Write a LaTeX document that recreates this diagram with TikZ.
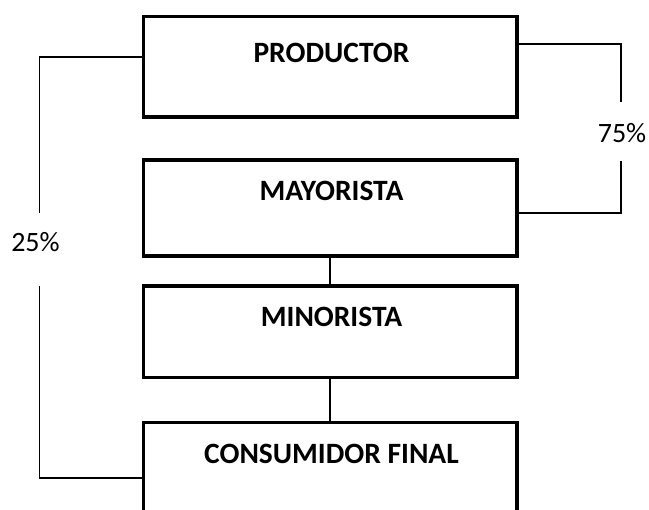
\documentclass[tikz,border=0pt]{standalone}
\usepackage{fontspec}
\setmainfont{Carlito}
\begin{document}
\begin{tikzpicture}[scale=1.000000,x=1pt,y=1pt]
\tikzset{
  chainbox/.style={draw=black, line width=3.5pt, fill=white, minimum width=373.5pt, inner sep=0pt},
  boxtext/.style={font=\fontsize{29.5}{35}\selectfont\bfseries, inner sep=0pt},
  pcttext/.style={font=\fontsize{28}{34}\selectfont, inner sep=0pt},
  link/.style={draw=black, line width=1.6pt},
}
\clip (0.000000,0.000000) rectangle (649.000000,510.000000);
\fill[white] (0.000000,0.000000) rectangle (649.000000,510.000000);
% Drawing boxes
\node[chainbox, minimum height=100.5pt] (prod) at (330.250000,443.250000) {};
\node[chainbox, minimum height=96.0pt] (may) at (330.250000,302.000000) {};
\node[chainbox, minimum height=91.7pt] (mino) at (330.250000,178.150000) {};
\node[chainbox, minimum height=160.0pt] (cons) at (330.250000,7.700000) {};
% Box labels
\node[boxtext] (prodtext) at (331.500000,457.000000) {PRODUCTOR};
\node[boxtext] (maytext) at (331.500000,319.000000) {MAYORISTA};
\node[boxtext] (minotext) at (331.500000,193.000000) {MINORISTA};
\node[boxtext] (constext) at (331.500000,56.000000) {CONSUMIDOR FINAL};
% Percent labels
\node[pcttext] (pct25) at (35.500000,267.500000) {25\%};
\node[pcttext] (pct75) at (622.000000,377.000000) {75\%};
% Done with boxes; drawing connectors
\coordinate (l25top) at (39.300000,296.700000);
\coordinate (l25bot) at (39.300000,224.300000);
\coordinate (r75top) at (621.000000,408.000000);
\coordinate (r75bot) at (621.000000,349.300000);
\draw[link] ([yshift=10pt]prod.west) -| (l25top);
\draw[link] (l25bot) |- ([yshift=-57.7pt]cons.north west);
\draw[link] ([yshift=23pt]prod.east) -| (r75top);
\draw[link] (r75bot) |- ([yshift=-5.3pt]may.east);
\draw[link] (may.south) -- (mino.north);
\draw[link] (mino.south) -- (cons.north);
% Done with connectors
\end{tikzpicture}
\end{document}
